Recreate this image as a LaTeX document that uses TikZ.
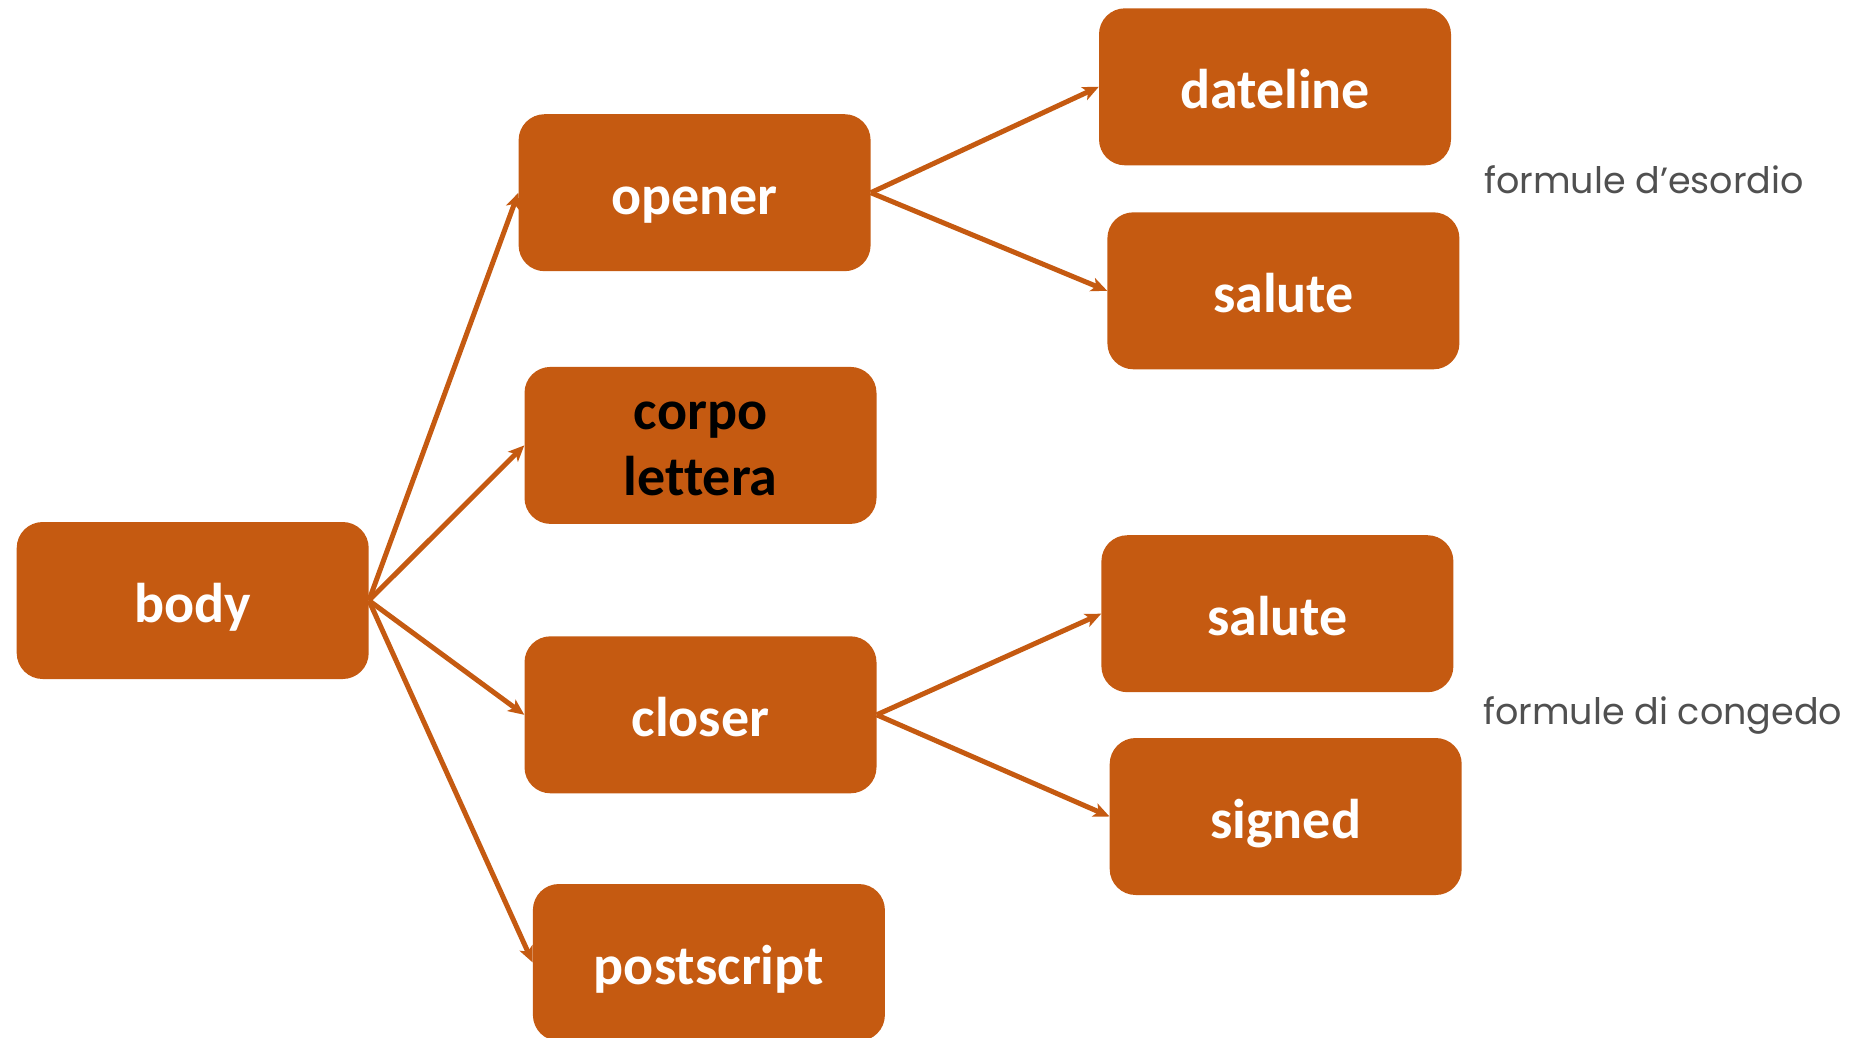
\documentclass[tikz,border=0pt]{standalone}
\usepackage{fontspec}
\setmainfont{Carlito}[Ligatures=NoCommon]
\newfontfamily\notefont{Poppins}
\usetikzlibrary{arrows.meta}
\definecolor{boxorange}{HTML}{C55A11}
\definecolor{notegray}{HTML}{505050}
\begin{document}
\begin{tikzpicture}[x=1pt,y=-1pt,
  box/.style={fill=boxorange, rounded corners=26pt, minimum width=352pt, minimum height=157pt,
    inner sep=0pt, text=white, font=\fontsize{56}{67}\selectfont\bfseries, align=center,
    text height=43pt, text depth=0pt},
  conn/.style={draw=boxorange, line width=5pt, -{Stealth[length=16pt,width=14pt,inset=4pt]}},
  note/.style={text=notegray, font=\notefont\fontsize{36.5}{44}\selectfont, anchor=west, inner sep=0pt}]
\useasboundingbox (0,0) rectangle (1865,1037);
\node[box] (body) at (192.7,600.5) {body};
\node[box] (opener) at (694.6,192.7) {opener};
\node[box, text=black, font=\fontsize{56}{66}\selectfont\bfseries, text height=101pt] (corpo) at (700.5,445.4) {corpo\\lettera};
\node[box] (closer) at (700.5,714.8) {closer};
\node[box] (post) at (708.9,962.5) {postscript};
\node[box] (date) at (1275,86.8) {dateline};
\node[box] (sal1) at (1283.4,290.8) {salute};
\node[box] (sal2) at (1277.4,613.7) {salute};
\node[box] (signed) at (1285.7,816.5) {signed};
\node[note] (n1) at (1484,180) {formule d’esordio};
\node[note] (n2) at (1483,715) {formule di congedo};
\draw[conn] (body.east) -- (opener.west);
\draw[conn] (body.east) -- (corpo.west);
\draw[conn] (body.east) -- (closer.west);
\draw[conn] (body.east) -- (post.west);
\draw[conn] (opener.east) -- (date.west);
\draw[conn] (opener.east) -- (sal1.west);
\draw[conn] (closer.east) -- (sal2.west);
\draw[conn] (closer.east) -- (signed.west);
\end{tikzpicture}
\end{document}
